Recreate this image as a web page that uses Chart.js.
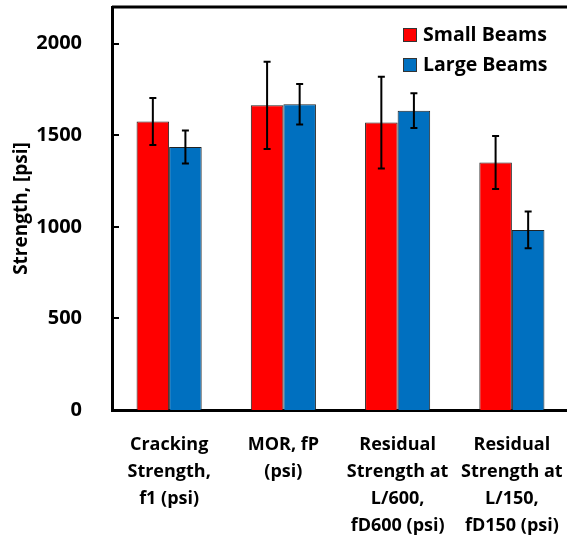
<!DOCTYPE html>
<html>
<head>
<meta charset="utf-8">
<script src="https://cdn.jsdelivr.net/npm/chart.js@4"></script>
<style>
  html, body { margin: 0; padding: 0; background: #fff; overflow: hidden; }
  #wrap { width: 572px; height: 543px; }
</style>
</head>
<body>
<div id="wrap"><canvas id="myChart" width="572" height="543"></canvas></div>
<script>
const labels = [
  ["Cracking", "Strength,", "f1 (psi)"],
  ["MOR, fP", "(psi)"],
  ["Residual", "Strength at", "L/600,", "fD600 (psi)"],
  ["Residual", "Strength at", "L/150,", "fD150 (psi)"],
];
const smallBeams = [1575, 1663, 1569, 1351];
const largeBeams = [1436, 1669, 1634, 983];
const smallErr = [128, 238, 250, 145];
const largeErr = [90, 110, 95, 100];
const yTicks = [0, 500, 1000, 1500, 2000];

const FONT = "'Open Sans', sans-serif";

// error bars + inward ticks + top/right frame + legend box
const extras = {
  id: "extras",
  afterDatasetsDraw(chart) {
    const ctx = chart.ctx;
    const y = chart.scales.y;
    const errs = [smallErr, largeErr];
    ctx.save();
    ctx.strokeStyle = "#000";
    ctx.lineWidth = 2;
    chart.data.datasets.forEach((ds, i) => {
      const meta = chart.getDatasetMeta(i);
      meta.data.forEach((bar, j) => {
        const top = y.getPixelForValue(ds.data[j] + errs[i][j]);
        const bot = y.getPixelForValue(ds.data[j] - errs[i][j]);
        ctx.beginPath();
        ctx.moveTo(bar.x, top);
        ctx.lineTo(bar.x, bot);
        ctx.moveTo(bar.x - 3.5, top);
        ctx.lineTo(bar.x + 3.5, top);
        ctx.moveTo(bar.x - 3.5, bot);
        ctx.lineTo(bar.x + 3.5, bot);
        ctx.stroke();
      });
    });
    ctx.restore();
  },
  afterDraw(chart) {
    const ctx = chart.ctx;
    const a = chart.chartArea;
    const y = chart.scales.y;
    ctx.save();
    ctx.strokeStyle = "#000";
    ctx.lineWidth = 3;
    ctx.beginPath();
    ctx.moveTo(a.left, a.top);
    ctx.lineTo(a.right, a.top);
    ctx.lineTo(a.right, a.bottom);
    ctx.stroke();
    ctx.lineWidth = 2;
    yTicks.forEach((v) => {
      const py = Math.round(y.getPixelForValue(v));
      ctx.beginPath();
      ctx.moveTo(a.left, py);
      ctx.lineTo(a.left + 7, py);
      ctx.stroke();
    });
    // legend
    ctx.font = "bold 19.5px " + FONT;
    ctx.textBaseline = "middle";
    ctx.textAlign = "left";
    chart.data.datasets.forEach((ds, i) => {
      const ly = 35 + i * 30;
      ctx.fillStyle = ds.backgroundColor;
      ctx.fillRect(403, ly - 6.5, 13, 13);
      ctx.lineWidth = 1;
      ctx.strokeStyle = "#333";
      ctx.strokeRect(403.5, ly - 6.5, 13, 13);
      ctx.fillStyle = "#000";
      ctx.fillText(ds.label, 423, ly);
    });
    ctx.restore();
  },
};

const config = {
  type: "bar",
  data: {
    labels,
    datasets: [
      {
        label: "Small Beams",
        data: smallBeams,
        backgroundColor: "#FF0000",
        borderColor: "#222",
        borderWidth: 1,
        categoryPercentage: 0.57,
        barPercentage: 1,
      },
      {
        label: "Large Beams",
        data: largeBeams,
        backgroundColor: "#0070C0",
        borderColor: "#222",
        borderWidth: 1,
        categoryPercentage: 0.57,
        barPercentage: 1,
      },
    ],
  },
  options: {
    responsive: false,
    animation: false,
    layout: { padding: { top: 7, right: 3, left: 0, bottom: 0 } },
    plugins: { legend: { display: false }, tooltip: { enabled: false } },
    scales: {
      x: {
        grid: { display: false },
        border: { display: true, color: "#000", width: 3 },
        ticks: {
          color: "#000",
          font: { family: FONT, size: 18, weight: "bold", lineHeight: 1.5 },
          padding: 13,
          maxRotation: 0,
          autoSkip: false,
        },
        afterFit(scale) {
          scale.height = 133;
          scale.paddingLeft = 0;
          scale.paddingRight = 0;
        },
      },
      y: {
        min: 0,
        max: 2200,
        grid: { display: false },
        border: { display: true, color: "#000", width: 3 },
        afterBuildTicks(scale) {
          scale.ticks = yTicks.map((v) => ({ value: v }));
        },
        ticks: {
          color: "#000",
          padding: 22,
          font: { family: FONT, size: 20, weight: "bold" },
          callback: (v) => String(v),
        },
        title: {
          display: true,
          text: "Strength, [psi]",
          color: "#000",
          font: { family: FONT, size: 19, weight: "bold" },
          padding: { top: 10, bottom: 0 },
        },
        afterFit(scale) {
          scale.width = 112;
          scale.paddingTop = 0;
          scale.paddingBottom = 0;
        },
      },
    },
  },
  plugins: [extras],
};

new Chart(document.getElementById("myChart"), config);
</script>
</body>
</html>
